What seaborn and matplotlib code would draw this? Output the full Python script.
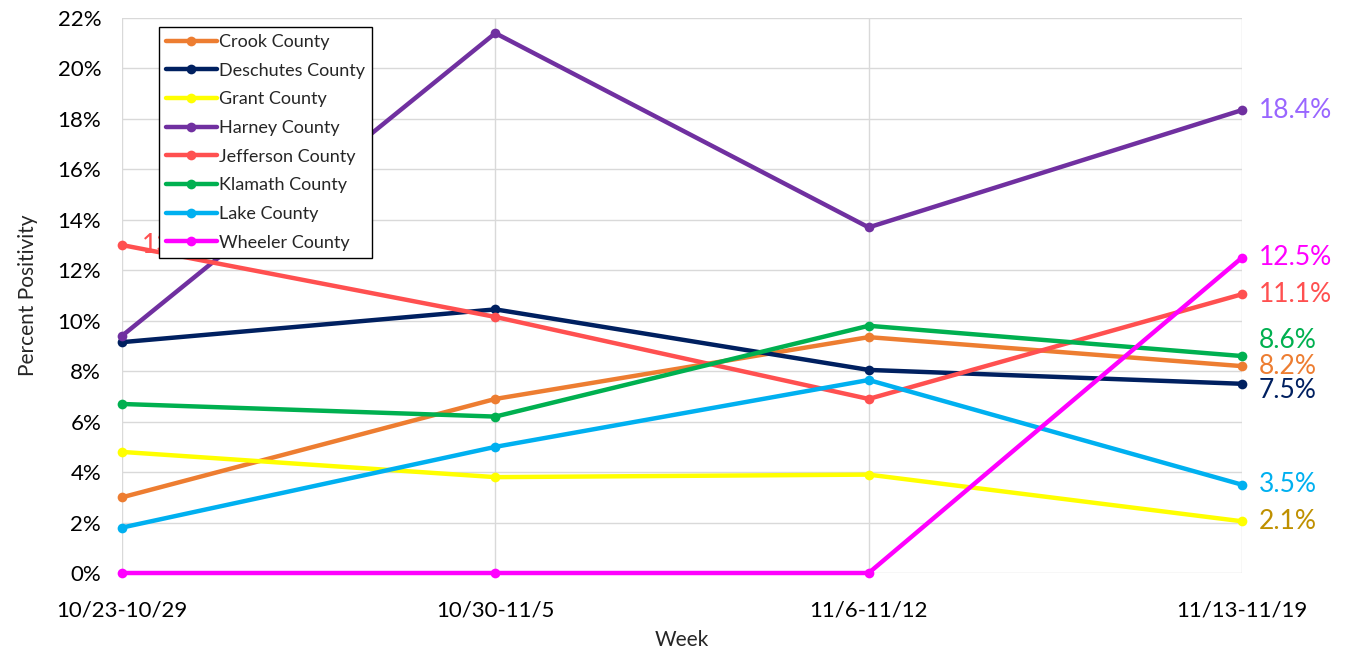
import matplotlib
matplotlib.use("Agg")
import matplotlib.pyplot as plt
import seaborn as sns
import pandas as pd
from matplotlib.ticker import PercentFormatter

weeks = ["10/23-10/29", "10/30-11/5", "11/6-11/12", "11/13-11/19"]
counties = ["Crook County", "Deschutes County", "Grant County", "Harney County",
            "Jefferson County", "Klamath County", "Lake County", "Wheeler County"]
crook = [3.0, 6.9, 9.35, 8.2]
deschutes = [9.15, 10.45, 8.05, 7.5]
grant = [4.8, 3.8, 3.9, 2.05]
harney = [9.4, 21.4, 13.7, 18.35]
jefferson = [13.0, 10.15, 6.9, 11.05]
klamath = [6.7, 6.2, 9.8, 8.6]
lake = [1.8, 5.0, 7.65, 3.5]
wheeler = [0.0, 0.0, 0.0, 12.5]
end_labels = ["8.2%", "7.5%", "2.1%", "18.4%", "11.1%", "8.6%", "3.5%", "12.5%"]

line_colors = ["#ED7D31", "#002060", "#FFFF00", "#7030A0", "#FF5050", "#00B050", "#00B0F0", "#FF00FF"]
label_colors = ["#ED7D31", "#002060", "#BF9000", "#9966FF", "#FF5050", "#00B050", "#00B0F0", "#FF00FF"]
label_dy = [0, -5, 0, 0, 0, 11, 0, 0]

series = [crook, deschutes, grant, harney, jefferson, klamath, lake, wheeler]
rows = []
for c, vals in zip(counties, series):
    for i, v in enumerate(vals):
        rows.append({"x": i, "value": v, "county": c})
df = pd.DataFrame(rows)

sns.set_theme(style="white")
plt.rcParams["font.family"] = ["Lato", "DejaVu Sans"]

fig = plt.figure(figsize=(13.47, 6.52), dpi=100)
ax = fig.add_axes([122/1347, 1 - 573/652, 1120/1347, 555/652])

sns.lineplot(data=df, x="x", y="value", hue="county", hue_order=counties,
             palette=dict(zip(counties, line_colors)), marker="o", markersize=7,
             markeredgewidth=0, linewidth=3.2, ax=ax, clip_on=False, zorder=3)

ax.set_xlim(0, len(weeks) - 1)
ax.set_ylim(0, 22)
ax.set_yticks(range(0, 23, 2))
ax.yaxis.set_major_formatter(PercentFormatter(decimals=0))
ax.set_xticks(range(len(weeks)))
ax.set_xticklabels(weeks)
ax.tick_params(axis="x", labelsize=16, colors="#000000", length=0, pad=20)
ax.tick_params(axis="y", labelsize=16, colors="#000000", length=0, pad=15)
ax.grid(True, color="#D9D9D9", linewidth=1)
for s in ax.spines.values():
    s.set_visible(False)
ax.set_axisbelow(True)
ax.set_xlabel("Week", fontsize=15, labelpad=7)
ax.set_ylabel("Percent Positivity", fontsize=15, labelpad=14)

last = len(weeks) - 1
for vals, lab, col, dy in zip(series, end_labels, label_colors, label_dy):
    ax.annotate(lab, (last, vals[last]), xytext=(12, dy), textcoords="offset points",
                color=col, fontsize=19, va="center", ha="left", annotation_clip=False)

ax.annotate(f"{jefferson[0]:.1f}%", (0, jefferson[0]), xytext=(14, 0), textcoords="offset points",
            color="#FF5050", fontsize=19, va="center", ha="left", zorder=2)

leg = ax.legend(loc="upper left", bbox_to_anchor=(0.033, 0.984), borderaxespad=0,
                fontsize=13, frameon=True, fancybox=False, framealpha=1,
                edgecolor="#000000", handlelength=2.8, handletextpad=0.1,
                labelspacing=0.7, borderpad=0.4, title=None)
leg.get_frame().set_linewidth(1)
leg.set_zorder(10)

fig.savefig("out.png", dpi=100, facecolor="white")
